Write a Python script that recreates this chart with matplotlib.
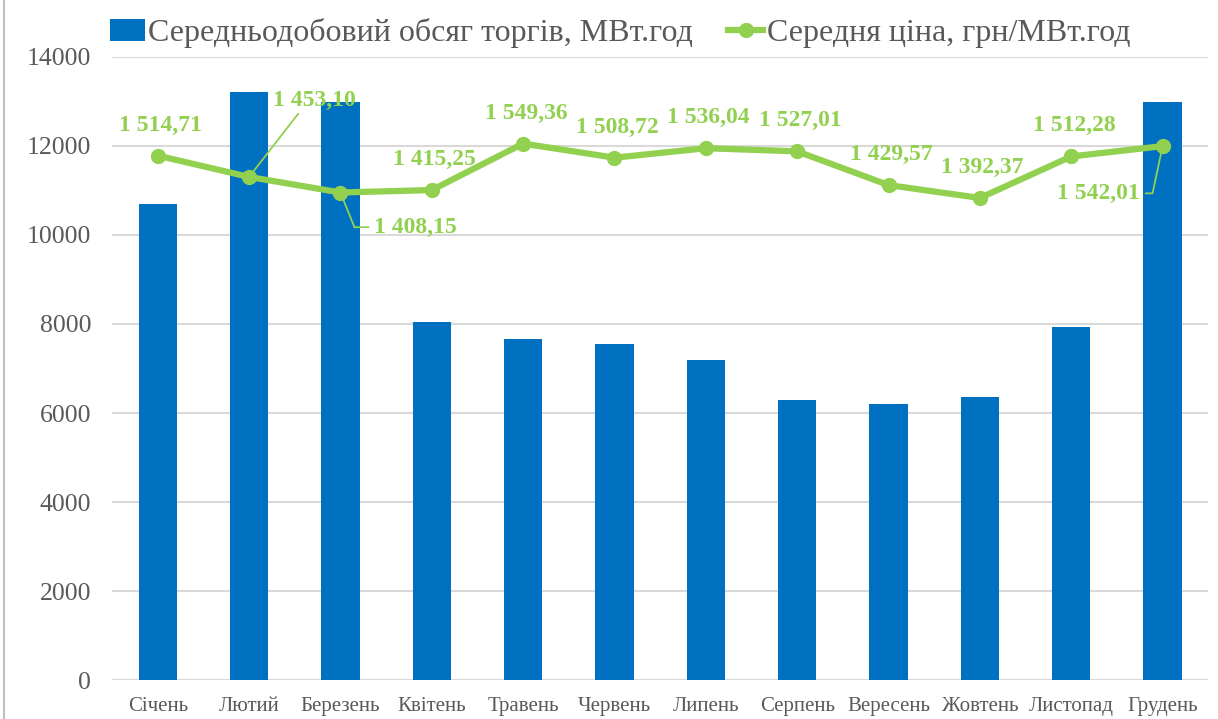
import numpy as np
import matplotlib
matplotlib.use("Agg")
from matplotlib import pyplot as plt
from matplotlib.lines import Line2D

plt.rcParams['font.family'] = ['Liberation Serif', 'DejaVu Serif']

# дані
months = ["Січень", "Лютий", "Березень", "Квітень", "Травень", "Червень",
          "Липень", "Серпень", "Вересень", "Жовтень", "Листопад", "Грудень"]
volume = [10700, 13210, 12990, 8050, 7660, 7550, 7190, 6290, 6200, 6360, 7930, 12990]
price = [1514.71, 1453.10, 1408.15, 1415.25, 1549.36, 1508.72,
         1536.04, 1527.01, 1429.57, 1392.37, 1512.28, 1542.01]

blue = "#0070C0"
green = "#92D050"
gray = "#595959"

def fmt(v):
    s = "{:,.2f}".format(v)
    return s.replace(",", " ").replace(".", ",")

fig = plt.figure(figsize=(12.18, 7.19), dpi=100)
ax = fig.add_axes([0.092, 0.054, 0.900, 0.867])
x = np.arange(len(months))

ax.bar(x, volume, width=0.42, color=blue, zorder=2, label="Середньодобовий обсяг торгів, МВт.год")
ax.set_ylim(0, 14000)
ax.set_xlim(-0.5, len(months) - 0.5)
ax.set_yticks(np.arange(0, 14001, 2000))
ax.set_xticks(x)
ax.set_xticklabels(months, fontsize=15, color=gray)
ax.tick_params(axis='y', labelsize=18.5, labelcolor=gray, length=0, pad=15)
ax.tick_params(axis='x', length=0, pad=12)
ax.grid(axis='y', color="#D9D9D9", linewidth=1.5)
ax.set_axisbelow(True)
for s in ax.spines.values():
    s.set_visible(False)

ax2 = ax.twinx()
ax2.set_ylim(0, 1800)
ax2.plot(x, price, color=green, linewidth=4.5, marker='o', markersize=10,
         label="Середня ціна, грн/МВт.год", zorder=3)
ax2.set_yticks([])
for s in ax2.spines.values():
    s.set_visible(False)

# підписи значень
for i, v in enumerate(price):
    kw = dict(textcoords='offset points', ha='center', va='center',
              fontsize=17, fontweight='bold', color=green)
    if i == 1:
        ax2.annotate(fmt(v), (x[i], v), xytext=(47, 55),
                     arrowprops=dict(arrowstyle='-', color=green, lw=1.3,
                                     shrinkA=0, shrinkB=3, relpos=(0.33, 0.0)), **kw)
    elif i == 2:
        ax2.annotate(fmt(v), (x[i], v), xytext=(54, -25),
                     arrowprops=dict(arrowstyle='-', color=green, lw=1.3,
                                     shrinkA=2, shrinkB=3, relpos=(0.0, 0.5),
                                     connectionstyle="angle,angleA=0,angleB=-68,rad=0"), **kw)
    elif i == 11:
        ax2.annotate(fmt(v), (x[i], v), xytext=(-46, -34),
                     arrowprops=dict(arrowstyle='-', color=green, lw=1.3,
                                     shrinkA=2, shrinkB=3, relpos=(1.0, 0.5),
                                     connectionstyle="angle,angleA=0,angleB=78,rad=0"), **kw)
    else:
        ax2.annotate(fmt(v), (x[i], v), xytext=(2, 22), **kw)

h1, l1 = ax.get_legend_handles_labels()
h2, l2 = ax2.get_legend_handles_labels()
leg = fig.legend(h1 + h2, l1 + l2, loc='upper center', bbox_to_anchor=(0.509, 1.015),
                 ncol=2, frameon=False, fontsize=23, handlelength=1.1,
                 handletextpad=0.1, columnspacing=1.1)
for t in leg.get_texts():
    t.set_color(gray)

fig.add_artist(Line2D([0.003, 0.003], [0, 1], color="#BFBFBF", lw=1.5))

fig.savefig("out.png", dpi=100)
